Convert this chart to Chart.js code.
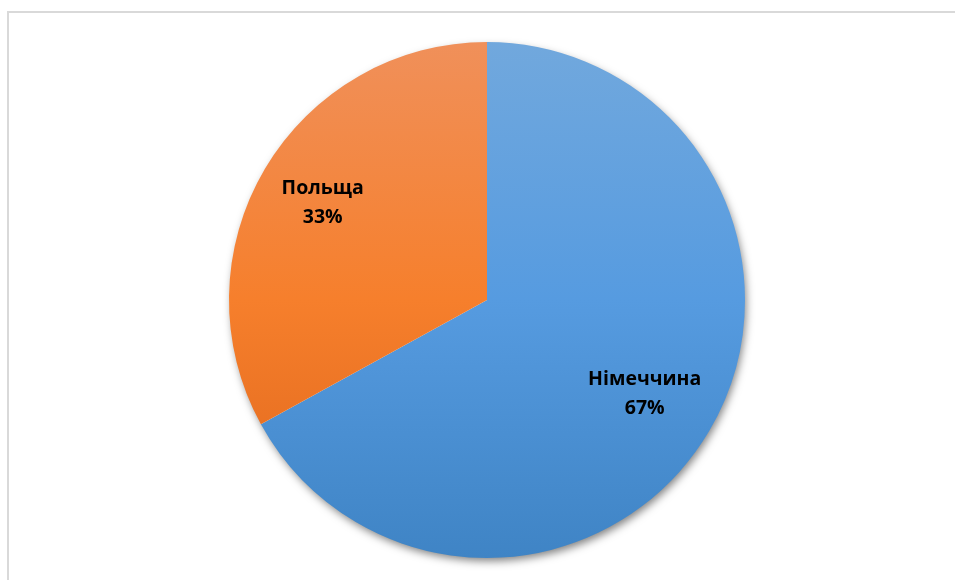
<!DOCTYPE html>
<html>
<head>
<meta charset="utf-8">
<script src="https://cdn.jsdelivr.net/npm/chart.js@4"></script>
<style>
  html, body { margin: 0; padding: 0; background: #fff; overflow: hidden; }
  #wrap { width: 955px; height: 580px; position: relative; }
</style>
</head>
<body>
<div id="wrap"><canvas id="pieChart" width="955" height="580"></canvas></div>
<script>
// Data
const countries = ['Німеччина', 'Польща'];
const shares = [67, 33];

// gradient stops per slice (top, middle, bottom)
const sliceColors = [
    ['#71a8dd', '#569be0', '#3f84c5'],
    ['#f0905a', '#f67f2c', '#de651a']
];

function sliceGradient(context) {
    const chart = context.chart;
    const area = chart.chartArea;
    const stops = sliceColors[context.dataIndex];
    if (!area) return stops[1];
    const g = chart.ctx.createLinearGradient(0, area.top, 0, area.bottom);
    g.addColorStop(0, stops[0]);
    g.addColorStop(0.5, stops[1]);
    g.addColorStop(1, stops[2]);
    return g;
}

// frame + soft shadow under the pie
const framePlugin = {
    id: 'frame',
    beforeDraw(chart) {
        const ctx = chart.ctx;
        ctx.save();
        ctx.strokeStyle = '#d9d9d9';
        ctx.lineWidth = 2;
        ctx.strokeRect(8, 12, 1000, 1000);
        ctx.restore();
    },
    beforeDatasetsDraw(chart) {
        const arc = chart.getDatasetMeta(0).data[0];
        if (!arc) return;
        const ctx = chart.ctx;
        ctx.save();
        ctx.shadowColor = 'rgba(0,0,0,0.5)';
        ctx.shadowBlur = 9;
        ctx.shadowOffsetX = 2;
        ctx.shadowOffsetY = 4;
        ctx.fillStyle = '#ffffff';
        ctx.beginPath();
        ctx.arc(arc.x, arc.y, arc.outerRadius - 1, 0, Math.PI * 2);
        ctx.fill();
        ctx.restore();
    }
};

// category + percent labels inside slices
const sliceLabels = {
    id: 'sliceLabels',
    afterDatasetsDraw(chart, args, opts) {
        const ctx = chart.ctx;
        const meta = chart.getDatasetMeta(0);
        const total = shares.reduce((a, b) => a + b, 0);
        ctx.save();
        ctx.font = 'bold 19.5px "Open Sans", sans-serif';
        ctx.fillStyle = '#000';
        ctx.textAlign = 'center';
        ctx.textBaseline = 'middle';
        meta.data.forEach((arc, i) => {
            const mid = (arc.startAngle + arc.endAngle) / 2;
            const r = arc.outerRadius * opts.radial[i];
            const x = arc.x + Math.cos(mid) * r;
            const y = arc.y + Math.sin(mid) * r;
            ctx.fillText(countries[i], x, y - 14);
            ctx.fillText(Math.round(shares[i] / total * 100) + '%', x, y + 15);
        });
        ctx.restore();
    }
};

const ctx = document.getElementById('pieChart').getContext('2d');
new Chart(ctx, {
    type: 'pie',
    data: {
        labels: countries,
        datasets: [{
            data: shares,
            backgroundColor: sliceGradient,
            borderWidth: 0
        }]
    },
    options: {
        responsive: false,
        animation: false,
        layout: {
            padding: { left: 229, right: 210, top: 42, bottom: 22 }
        },
        plugins: {
            legend: { display: false },
            tooltip: { enabled: false },
            sliceLabels: { radial: [0.71, 0.74] }
        }
    },
    plugins: [framePlugin, sliceLabels]
});
</script>
</body>
</html>
